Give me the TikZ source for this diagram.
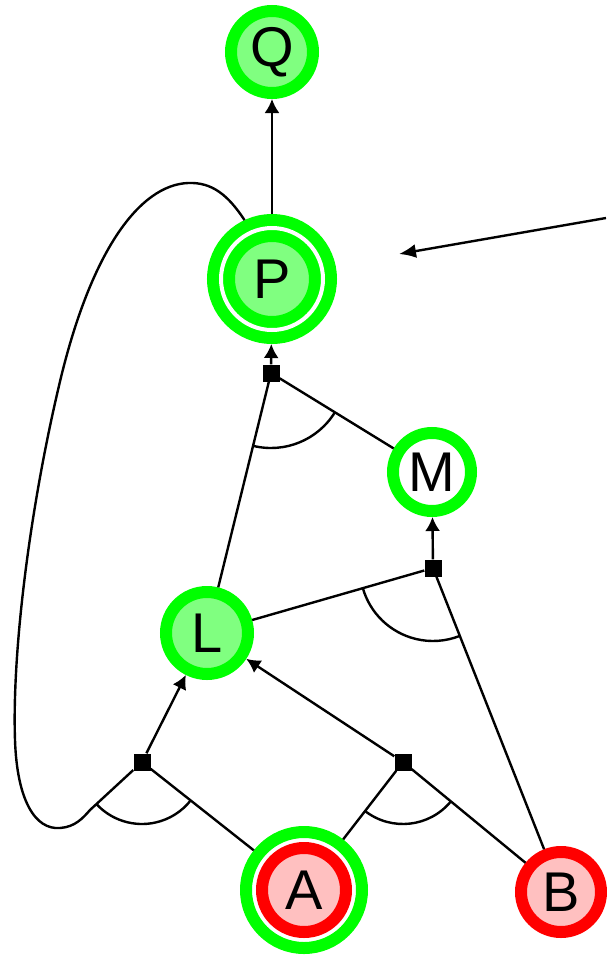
\documentclass[tikz,border=0pt]{standalone}
\usepackage{fontspec}
\setmainfont{Liberation Sans}
\usetikzlibrary{calc,arrows.meta}
\definecolor{ringgreen}{HTML}{00FF00}
\definecolor{fillgreen}{HTML}{80FF80}
\definecolor{ringred}{HTML}{FF0000}
\definecolor{fillred}{HTML}{FFC0C0}
\begin{document}
\begin{tikzpicture}[x=1pt, y=-1pt,
        prop/.style={circle, inner sep=0pt, line width=12pt, font=\fontsize{56}{60}\selectfont},
        goal/.style={prop, draw=ringgreen, fill=fillgreen},
        opengoal/.style={prop, draw=ringgreen, fill=white},
        given/.style={prop, draw=ringred, fill=fillred},
        junc/.style={rectangle, fill=black, inner sep=0pt, minimum size=17pt},
        edge/.style={line width=2.4pt},
        arr/.style={edge, -{Latex[length=14pt,width=15pt]}}]
        \useasboundingbox (0,0) rectangle (606,959);
        \node[goal, minimum size=82pt] (Q) at (272,52) {Q};
        \node[goal, double=white, double distance=4pt, minimum size=102pt, outer sep=14pt] (P) at (272,279) {P};
        \node[opengoal, minimum size=78pt] (M) at (432,472) {M};
        \node[goal, minimum size=82pt] (L) at (207,633) {L};
        \node[given, minimum size=84pt, outer sep=22pt] (A) at (304,890) {A};
        \draw[ringgreen, line width=12pt] (A.center) circle[radius=58pt];
        \node[given, minimum size=80pt] (B) at (561,892) {B};
        \node[junc] (j4) at (271,373) {};
        \node[junc] (j3) at (433,568) {};
        \node[junc] (j1) at (142,762) {};
        \node[junc] (j2) at (403,762) {};
        \coordinate (c1) at (90,810);
        \coordinate (ptrstart) at (606,218);
        \coordinate (ptrend) at (399,254);
        \draw[arr] (P) -- (Q);
        \draw[arr] (j4) -- (P);
        \draw[edge] (L) -- (j4);
        \draw[edge] (M) -- (j4);
        \draw[arr] (j3) -- (M);
        \draw[edge] (L) -- (j3);
        \draw[edge] (B) -- (j3);
        \draw[arr] (j1) -- (L);
        \draw[arr] (j2) -- (L);
        \draw[edge] (A) -- (j1);
        \draw[edge] (A) -- (j2);
        \draw[edge] (B) -- (j2);
        \draw[edge] (P.115) .. controls (228,195) and (212,182) .. (188,183)
            .. controls (140,185) and (90,250) .. (58,390)
            .. controls (30,510) and (12,650) .. (15,740)
            .. controls (17,800) and (35,830) .. (60,828)
            .. controls (75,827) and (83,818) .. (c1) -- (j1);
        \draw[edge] let \p1=($(c1)-(j1)$), \p2=($(A)-(j1)$), \n1={atan2(\y1,\x1)}, \n2={atan2(\y2,\x2)}
            in ($(j1)+(\n1:62pt)$) arc[start angle=\n1, end angle=\n2, radius=62pt];
        \draw[edge] let \p1=($(A)-(j2)$), \p2=($(B)-(j2)$), \n1={atan2(\y1,\x1)}, \n2={atan2(\y2,\x2)}
            in ($(j2)+(\n1:62pt)$) arc[start angle=\n1, end angle=\n2, radius=62pt];
        \draw[edge] let \p1=($(L)-(j3)$), \p2=($(B)-(j3)$), \n1={atan2(\y1,\x1)}, \n2={atan2(\y2,\x2)}
            in ($(j3)+(\n1:73pt)$) arc[start angle=\n1, end angle=\n2, radius=73pt];
        \draw[edge] let \p1=($(L)-(j4)$), \p2=($(M)-(j4)$), \n1={atan2(\y1,\x1)}, \n2={atan2(\y2,\x2)}
            in ($(j4)+(\n1:75pt)$) arc[start angle=\n1, end angle=\n2, radius=75pt];
        \draw[edge, -{Latex[length=17pt,width=14pt]}] (ptrstart) -- (ptrend);
\end{tikzpicture}
\end{document}
